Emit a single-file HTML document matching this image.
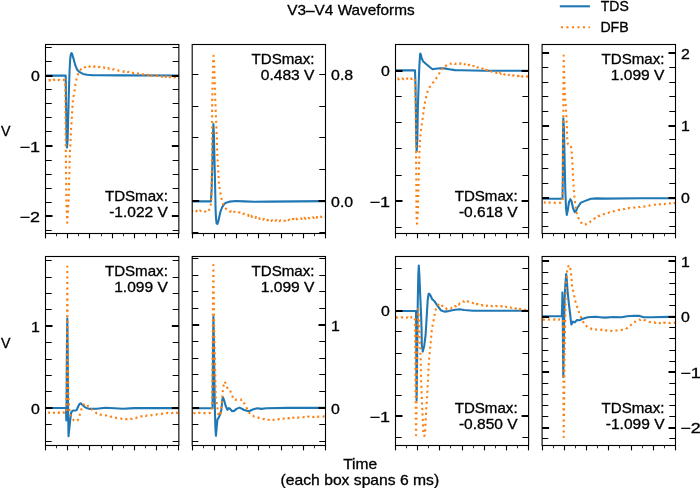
<!DOCTYPE html><html><head><meta charset="utf-8"><style>html,body{margin:0;padding:0;background:#fff;}svg{display:block}text{font-family:"Liberation Sans",sans-serif;font-size:14.10px;fill:#000;stroke:#000;stroke-width:0.3px}svg{will-change:transform}</style></head><body>
<svg width="700" height="488" viewBox="0 0 700 488">
<rect width="700" height="488" fill="#fff"/>
<clipPath id="c0"><rect x="45.5" y="44.5" width="133.35" height="189.0"/></clipPath>
<path d="M43.50,75.60 L65.70,75.60 L66.00,100.00 L66.60,140.00 L67.00,147.40 L67.60,140.00 L68.80,94.00 L69.60,70.00 L70.20,59.00 L70.70,55.00 L71.20,53.40 L71.60,53.10 L72.00,53.60 L72.50,55.30 L73.50,58.60 L75.20,64.90 L77.20,69.80 L79.70,72.20 L83.00,73.90 L87.00,74.70 L92.80,75.20 L99.30,75.30 L120.00,75.40 L180.85,75.50" fill="none" stroke="#1f77b4" stroke-width="2.08" stroke-linejoin="round" stroke-linecap="butt" clip-path="url(#c0)"/>
<path d="M43.50,80.10 L44.00,79.85 L44.50,80.16 L44.99,80.27 L45.49,80.22 L45.99,79.90 L46.49,80.33 L46.98,80.25 L47.48,80.25 L47.98,80.26 L48.48,80.33 L48.97,80.57 L49.47,79.97 L49.97,80.11 L50.47,80.47 L50.97,79.82 L51.46,80.17 L51.96,79.95 L52.46,80.10 L52.96,80.20 L53.45,79.69 L53.95,79.89 L54.45,79.80 L54.95,80.05 L55.44,79.95 L55.94,80.42 L56.44,79.97 L56.94,80.46 L57.43,80.01 L57.93,80.16 L58.43,80.11 L58.93,80.10 L59.43,79.86 L59.92,80.17 L60.42,80.18 L60.92,80.15 L61.42,80.23 L61.91,79.93 L62.41,80.04 L62.91,79.96 L63.41,79.74 L63.90,80.18 L64.40,79.97 L64.90,80.10 L65.30,90.00 L65.60,130.00 L65.90,160.00 L66.30,200.00 L67.20,222.60 L68.60,200.00 L69.80,155.60 L70.40,144.50 L70.80,133.00 L71.50,121.90 L72.20,110.80 L72.90,99.80 L74.00,94.00 L74.90,88.60 L75.60,83.00 L76.90,77.60 L78.70,72.20 L82.00,67.90 L82.49,67.71 L82.98,68.04 L83.47,67.44 L83.96,67.24 L84.45,67.28 L84.94,67.14 L85.43,67.09 L85.92,66.43 L86.41,66.75 L86.90,66.20 L87.42,66.16 L87.94,65.93 L88.46,65.97 L88.98,66.39 L89.50,66.31 L90.02,66.41 L90.54,65.93 L91.06,66.05 L91.58,65.86 L92.10,66.10 L92.59,65.74 L93.08,66.21 L93.57,66.60 L94.06,66.55 L94.55,66.21 L95.05,66.67 L95.54,66.36 L96.03,66.60 L96.52,66.77 L97.01,66.56 L97.50,66.70 L98.00,66.58 L98.50,66.98 L99.00,66.87 L99.50,66.86 L100.00,67.18 L100.50,67.07 L101.00,67.27 L101.50,67.06 L102.00,67.48 L102.50,67.40 L102.99,67.28 L103.48,67.48 L103.97,67.24 L104.46,67.97 L104.95,67.82 L105.44,67.98 L105.93,67.60 L106.42,68.07 L106.91,68.04 L107.40,68.20 L107.90,68.54 L108.40,68.05 L108.90,68.54 L109.40,68.78 L109.90,68.40 L110.40,68.76 L110.90,68.60 L111.40,68.93 L111.90,69.08 L112.40,69.10 L112.91,69.50 L113.42,69.38 L113.93,69.31 L114.44,69.70 L114.95,69.70 L115.46,70.05 L115.97,69.81 L116.48,70.34 L116.99,70.22 L117.50,70.30 L118.02,70.45 L118.54,70.71 L119.06,70.49 L119.58,70.59 L120.10,70.91 L120.62,70.88 L121.14,71.01 L121.66,71.01 L122.18,71.13 L122.70,71.30 L123.18,71.56 L123.66,71.88 L124.14,71.25 L124.62,71.94 L125.10,71.86 L125.58,72.04 L126.06,71.90 L126.54,71.78 L127.02,71.98 L127.50,72.10 L128.01,71.97 L128.52,71.89 L129.03,72.29 L129.54,72.43 L130.05,72.39 L130.56,72.56 L131.07,72.26 L131.58,72.88 L132.09,72.70 L132.60,72.80 L133.11,72.87 L133.62,73.07 L134.13,72.86 L134.64,73.59 L135.15,73.36 L135.66,73.42 L136.17,73.25 L136.68,73.13 L137.19,73.45 L137.70,73.40 L138.18,73.33 L138.66,73.61 L139.15,73.70 L139.63,73.99 L140.11,73.90 L140.59,73.92 L141.07,74.27 L141.55,74.03 L142.04,74.02 L142.52,74.11 L143.00,74.30 L143.48,74.67 L143.96,74.43 L144.44,74.36 L144.92,74.13 L145.40,74.38 L145.88,74.73 L146.36,74.84 L146.84,75.13 L147.32,74.69 L147.80,74.90 L148.32,75.07 L148.84,75.29 L149.36,74.60 L149.88,75.63 L150.40,74.96 L150.92,75.02 L151.44,75.52 L151.96,75.47 L152.48,75.70 L153.00,75.50 L153.49,75.68 L153.98,75.64 L154.47,75.59 L154.96,75.50 L155.45,75.82 L155.94,75.33 L156.43,75.74 L156.92,75.99 L157.41,75.62 L157.90,75.90 L158.41,76.13 L158.92,76.21 L159.43,76.07 L159.94,76.07 L160.45,76.27 L160.96,76.34 L161.47,76.20 L161.98,76.74 L162.49,76.67 L163.00,76.40 L163.49,76.64 L163.98,76.76 L164.47,76.77 L164.96,76.23 L165.45,77.09 L165.94,76.27 L166.43,76.65 L166.92,76.41 L167.41,76.80 L167.90,76.70 L168.38,76.85 L168.86,76.87 L169.34,76.27 L169.82,77.11 L170.30,77.05 L170.78,76.63 L171.26,77.44 L171.74,77.15 L172.22,77.08 L172.70,77.30 L173.21,77.41 L173.72,77.22 L174.23,77.44 L174.74,77.30 L175.25,77.20 L175.76,77.17 L176.27,77.60 L176.77,77.47 L177.28,77.31 L177.79,77.36 L178.30,77.32 L178.81,77.98 L179.32,77.63 L179.83,77.60 L180.34,77.90 L180.85,77.60" fill="none" stroke="#ff7f0e" stroke-width="2.08" stroke-dasharray="2.08 3.44" stroke-dashoffset="5.20" stroke-linejoin="round" clip-path="url(#c0)"/>
<path d="M45.5,230.50h6.2M178.85,230.50h-6.2" stroke="#000" stroke-width="1.11"/>
<path d="M45.5,216.00h7M178.85,216.00h-7" stroke="#000" stroke-width="2.08"/>
<path d="M45.5,202.50h6.2M178.85,202.50h-6.2" stroke="#000" stroke-width="1.11"/>
<path d="M45.5,188.50h6.2M178.85,188.50h-6.2" stroke="#000" stroke-width="1.11"/>
<path d="M45.5,174.50h6.2M178.85,174.50h-6.2" stroke="#000" stroke-width="1.11"/>
<path d="M45.5,160.50h6.2M178.85,160.50h-6.2" stroke="#000" stroke-width="1.11"/>
<path d="M45.5,146.00h7M178.85,146.00h-7" stroke="#000" stroke-width="2.08"/>
<path d="M45.5,131.50h6.2M178.85,131.50h-6.2" stroke="#000" stroke-width="1.11"/>
<path d="M45.5,117.50h6.2M178.85,117.50h-6.2" stroke="#000" stroke-width="1.11"/>
<path d="M45.5,103.50h6.2M178.85,103.50h-6.2" stroke="#000" stroke-width="1.11"/>
<path d="M45.5,89.50h6.2M178.85,89.50h-6.2" stroke="#000" stroke-width="1.11"/>
<path d="M45.5,76.00h7M178.85,76.00h-7" stroke="#000" stroke-width="2.08"/>
<path d="M45.5,61.50h6.2M178.85,61.50h-6.2" stroke="#000" stroke-width="1.11"/>
<path d="M45.5,47.50h6.2M178.85,47.50h-6.2" stroke="#000" stroke-width="1.11"/>
<path d="M45.50,233.5v4.86" stroke="#000" stroke-width="1.11"/>
<path d="M56.50,233.5v2.78" stroke="#000" stroke-width="0.83"/>
<path d="M67.50,233.5v4.86" stroke="#000" stroke-width="1.11"/>
<path d="M78.50,233.5v2.78" stroke="#000" stroke-width="0.83"/>
<path d="M89.50,233.5v4.86" stroke="#000" stroke-width="1.11"/>
<path d="M101.50,233.5v2.78" stroke="#000" stroke-width="0.83"/>
<path d="M112.50,233.5v4.86" stroke="#000" stroke-width="1.11"/>
<path d="M123.50,233.5v2.78" stroke="#000" stroke-width="0.83"/>
<path d="M134.50,233.5v4.86" stroke="#000" stroke-width="1.11"/>
<path d="M145.50,233.5v2.78" stroke="#000" stroke-width="0.83"/>
<path d="M156.50,233.5v4.86" stroke="#000" stroke-width="1.11"/>
<path d="M167.50,233.5v2.78" stroke="#000" stroke-width="0.83"/>
<path d="M178.50,233.5v4.86" stroke="#000" stroke-width="1.11"/>
<rect x="45.5" y="44.5" width="133.35" height="189.00" fill="none" stroke="#000" stroke-width="1.11"/>
<text x="31.06" y="81.20" textLength="8.84" lengthAdjust="spacingAndGlyphs" >0</text>
<text x="19.42" y="151.50" textLength="20.48" lengthAdjust="spacingAndGlyphs" >−1</text>
<text x="19.42" y="221.80" textLength="20.48" lengthAdjust="spacingAndGlyphs" >−2</text>
<text x="104.91" y="200.80" textLength="62.94" lengthAdjust="spacingAndGlyphs" >TDSmax:</text>
<text x="109.16" y="216.60" textLength="58.69" lengthAdjust="spacingAndGlyphs" >-1.022 V</text>
<clipPath id="c1"><rect x="192.2" y="44.5" width="133.3" height="189.0"/></clipPath>
<path d="M190.20,201.40 L210.90,201.40 L211.60,190.00 L212.30,165.00 L213.00,135.00 L213.40,124.00 L213.90,135.00 L214.50,160.00 L215.20,190.00 L215.60,210.00 L216.00,218.00 L216.60,223.40 L217.40,224.00 L218.30,221.50 L219.40,216.30 L220.50,211.50 L222.00,207.50 L223.80,204.60 L225.50,203.00 L229.90,201.60 L236.00,201.00 L243.90,201.40 L254.30,201.80 L270.00,201.60 L327.50,201.10" fill="none" stroke="#1f77b4" stroke-width="2.08" stroke-linejoin="round" stroke-linecap="butt" clip-path="url(#c1)"/>
<path d="M190.20,211.10 L190.71,210.84 L191.21,210.43 L191.72,211.30 L192.22,211.34 L192.73,211.00 L193.23,211.22 L193.74,211.66 L194.24,211.45 L194.75,211.33 L195.26,211.33 L195.76,210.82 L196.27,211.42 L196.77,210.56 L197.28,210.99 L197.78,210.96 L198.29,210.53 L198.79,211.06 L199.30,211.64 L199.81,210.99 L200.31,210.70 L200.82,211.07 L201.32,211.38 L201.83,211.16 L202.33,211.10 L202.84,210.64 L203.34,211.26 L203.85,211.26 L204.36,211.54 L204.86,211.59 L205.37,211.33 L205.87,210.56 L206.38,210.63 L206.88,210.74 L207.39,211.20 L207.89,210.84 L208.40,211.10 L210.40,207.50 L211.30,200.90 L211.80,180.00 L212.00,156.50 L212.20,100.00 L213.00,65.00 L213.50,55.70 L214.20,65.00 L215.30,100.00 L216.50,130.00 L217.40,156.50 L219.00,184.50 L220.70,194.30 L222.30,202.50 L224.80,207.50 L228.00,210.70 L228.50,211.30 L229.00,211.12 L229.50,211.33 L230.00,211.63 L230.50,211.66 L231.00,211.26 L231.50,212.69 L232.00,212.54 L232.50,212.73 L233.00,212.40 L233.50,212.17 L234.00,211.83 L234.50,211.95 L235.00,212.12 L235.50,212.77 L236.00,212.79 L236.50,212.99 L237.00,213.23 L237.50,212.71 L238.00,212.67 L238.50,212.45 L239.00,212.47 L239.50,212.60 L239.99,212.35 L240.47,213.03 L240.96,213.10 L241.45,213.00 L241.93,213.00 L242.42,213.55 L242.91,213.96 L243.39,213.69 L243.88,213.89 L244.37,213.75 L244.85,213.99 L245.34,214.10 L245.83,214.24 L246.31,214.27 L246.80,214.60 L247.31,214.94 L247.83,215.45 L248.34,214.93 L248.85,215.91 L249.36,215.53 L249.88,215.75 L250.39,215.38 L250.90,216.30 L251.41,215.68 L251.92,216.90 L252.43,216.48 L252.94,217.28 L253.46,217.21 L253.97,217.45 L254.48,217.98 L254.99,217.70 L255.50,217.90 L256.01,216.93 L256.51,217.53 L257.02,218.52 L257.53,218.95 L258.04,218.37 L258.54,218.27 L259.05,218.14 L259.56,218.88 L260.06,218.21 L260.57,218.49 L261.08,219.04 L261.59,219.13 L262.09,219.12 L262.60,219.30 L263.11,219.72 L263.62,219.03 L264.14,219.12 L264.65,219.44 L265.16,219.67 L265.68,219.60 L266.19,220.43 L266.70,219.65 L267.21,220.13 L267.73,219.80 L268.24,220.16 L268.75,219.98 L269.26,220.06 L269.78,220.79 L270.29,220.22 L270.80,220.40 L271.31,220.98 L271.82,220.20 L272.34,220.30 L272.85,220.84 L273.36,219.68 L273.88,219.96 L274.39,220.54 L274.90,220.71 L275.41,220.76 L275.93,220.48 L276.44,220.13 L276.95,220.90 L277.46,220.79 L277.98,220.29 L278.49,220.71 L279.00,220.70 L279.51,221.27 L280.02,220.68 L280.54,220.21 L281.05,220.43 L281.56,220.42 L282.07,220.63 L282.59,220.78 L283.10,220.14 L283.61,220.20 L284.12,220.73 L284.64,220.60 L285.15,220.78 L285.66,219.81 L286.18,219.94 L286.69,220.56 L287.20,220.20 L287.71,219.83 L288.22,220.19 L288.74,220.01 L289.25,219.72 L289.76,220.41 L290.27,219.86 L290.79,219.64 L291.30,219.70 L291.81,219.78 L292.32,219.11 L292.84,219.29 L293.35,219.10 L293.86,218.77 L294.38,219.74 L294.89,219.83 L295.40,219.30 L295.91,219.63 L296.41,218.58 L296.92,219.24 L297.42,219.28 L297.93,218.80 L298.44,219.20 L298.94,218.49 L299.45,218.44 L299.96,218.46 L300.46,218.43 L300.97,218.27 L301.48,218.87 L301.98,218.13 L302.49,218.27 L302.99,218.15 L303.50,218.30 L304.01,219.00 L304.52,217.94 L305.04,218.36 L305.55,218.78 L306.06,217.75 L306.57,217.83 L307.09,217.97 L307.60,217.61 L308.11,218.42 L308.62,217.83 L309.14,218.30 L309.65,218.10 L310.16,217.90 L310.68,218.18 L311.19,217.73 L311.70,217.80 L312.20,218.10 L312.70,217.27 L313.20,217.42 L313.70,218.02 L314.20,216.88 L314.70,217.69 L315.20,217.35 L315.70,217.26 L316.20,217.16 L316.70,217.77 L317.20,216.80 L317.70,217.53 L318.20,217.37 L318.70,217.03 L319.20,217.10 L319.70,217.31 L320.20,216.84 L320.70,216.49 L321.20,217.04 L321.70,216.90 L322.18,216.59 L322.67,216.70 L323.15,216.82 L323.63,217.01 L324.12,217.33 L324.60,216.81 L325.08,216.70 L325.57,216.90 L326.05,216.69 L326.53,216.01 L327.02,216.34 L327.50,216.50" fill="none" stroke="#ff7f0e" stroke-width="2.08" stroke-dasharray="2.08 3.44" stroke-dashoffset="4.07" stroke-linejoin="round" clip-path="url(#c1)"/>
<path d="M192.2,232.50h6.2M325.5,232.50h-6.2" stroke="#000" stroke-width="1.11"/>
<path d="M192.2,201.00h7M325.5,201.00h-7" stroke="#000" stroke-width="2.08"/>
<path d="M192.2,169.50h6.2M325.5,169.50h-6.2" stroke="#000" stroke-width="1.11"/>
<path d="M192.2,137.50h6.2M325.5,137.50h-6.2" stroke="#000" stroke-width="1.11"/>
<path d="M192.2,106.50h6.2M325.5,106.50h-6.2" stroke="#000" stroke-width="1.11"/>
<path d="M192.2,74.50h6.2M325.5,74.50h-6.2" stroke="#000" stroke-width="1.11"/>
<path d="M192.50,233.5v4.86" stroke="#000" stroke-width="1.11"/>
<path d="M203.50,233.5v2.78" stroke="#000" stroke-width="0.83"/>
<path d="M214.50,233.5v4.86" stroke="#000" stroke-width="1.11"/>
<path d="M225.50,233.5v2.78" stroke="#000" stroke-width="0.83"/>
<path d="M236.50,233.5v4.86" stroke="#000" stroke-width="1.11"/>
<path d="M247.50,233.5v2.78" stroke="#000" stroke-width="0.83"/>
<path d="M258.50,233.5v4.86" stroke="#000" stroke-width="1.11"/>
<path d="M269.50,233.5v2.78" stroke="#000" stroke-width="0.83"/>
<path d="M281.50,233.5v4.86" stroke="#000" stroke-width="1.11"/>
<path d="M292.50,233.5v2.78" stroke="#000" stroke-width="0.83"/>
<path d="M303.50,233.5v4.86" stroke="#000" stroke-width="1.11"/>
<path d="M314.50,233.5v2.78" stroke="#000" stroke-width="0.83"/>
<path d="M325.50,233.5v4.86" stroke="#000" stroke-width="1.11"/>
<rect x="192.2" y="44.5" width="133.30" height="189.00" fill="none" stroke="#000" stroke-width="1.11"/>
<text x="331.10" y="79.86" textLength="22.09" lengthAdjust="spacingAndGlyphs" >0.8</text>
<text x="331.10" y="206.50" textLength="22.09" lengthAdjust="spacingAndGlyphs" >0.0</text>
<text x="251.56" y="64.30" textLength="62.94" lengthAdjust="spacingAndGlyphs" >TDSmax:</text>
<text x="260.82" y="80.00" textLength="53.68" lengthAdjust="spacingAndGlyphs" >0.483 V</text>
<clipPath id="c2"><rect x="395.5" y="44.5" width="133.10000000000002" height="189.0"/></clipPath>
<path d="M393.50,70.40 L415.00,70.40 L415.50,85.00 L415.90,110.00 L416.20,140.00 L416.70,151.30 L417.30,140.00 L417.80,110.00 L418.30,95.00 L418.80,80.00 L419.40,65.00 L420.20,53.50 L421.00,55.00 L421.40,57.50 L423.00,61.20 L425.80,63.70 L429.40,66.80 L432.50,69.20 L435.60,68.80 L440.50,68.20 L444.20,68.40 L449.10,69.20 L455.00,70.10 L461.40,70.30 L484.30,70.80 L530.60,70.70" fill="none" stroke="#1f77b4" stroke-width="2.08" stroke-linejoin="round" stroke-linecap="butt" clip-path="url(#c2)"/>
<path d="M393.50,78.80 L394.00,78.97 L394.51,79.38 L395.01,79.06 L395.52,78.51 L396.02,78.64 L396.53,79.03 L397.03,78.79 L397.54,79.12 L398.04,78.28 L398.55,79.37 L399.05,79.31 L399.56,78.41 L400.06,78.72 L400.57,78.64 L401.07,78.70 L401.58,79.07 L402.08,78.67 L402.59,78.56 L403.09,79.00 L403.60,79.18 L404.10,78.70 L404.60,78.90 L405.11,78.43 L405.61,79.09 L406.12,79.44 L406.62,78.98 L407.13,78.80 L407.63,78.26 L408.14,78.73 L408.64,78.26 L409.15,79.04 L409.65,79.31 L410.16,79.21 L410.66,78.87 L411.17,78.96 L411.67,78.63 L412.18,78.88 L412.68,78.88 L413.19,78.82 L413.69,78.08 L414.20,78.89 L414.70,78.80 L415.20,85.00 L415.70,110.00 L416.10,153.00 L416.50,215.60 L417.00,223.60 L417.80,212.30 L419.40,153.00 L419.50,151.00 L419.80,145.20 L420.10,139.50 L420.60,134.10 L421.20,128.50 L422.00,123.00 L422.80,117.40 L423.50,111.90 L424.30,106.30 L425.30,100.50 L426.40,95.70 L428.00,90.10 L430.70,85.20 L434.10,81.50 L437.10,77.00 L439.90,72.50 L443.00,68.20 L443.53,67.91 L444.06,67.15 L444.59,67.04 L445.11,66.72 L445.64,65.47 L446.17,65.89 L446.70,65.20 L447.18,64.89 L447.66,64.54 L448.13,64.74 L448.61,64.30 L449.09,64.22 L449.57,63.90 L450.04,63.83 L450.52,63.51 L451.00,63.70 L451.51,63.49 L452.03,63.32 L452.54,63.22 L453.06,63.87 L453.57,63.55 L454.09,63.63 L454.60,63.50 L455.11,63.99 L455.62,63.72 L456.13,63.56 L456.64,63.27 L457.15,63.81 L457.66,63.75 L458.17,63.92 L458.68,63.62 L459.19,63.57 L459.70,63.70 L460.21,63.20 L460.72,64.02 L461.23,63.53 L461.74,63.91 L462.26,64.27 L462.77,64.24 L463.28,64.28 L463.79,64.52 L464.30,64.50 L464.81,64.07 L465.32,64.65 L465.83,65.07 L466.34,65.12 L466.86,64.45 L467.37,65.21 L467.88,65.15 L468.39,64.83 L468.90,65.20 L469.40,64.90 L469.90,65.34 L470.40,65.87 L470.90,65.72 L471.40,65.42 L471.90,65.81 L472.40,66.18 L472.90,66.00 L473.40,66.11 L473.90,66.16 L474.40,66.58 L474.90,66.02 L475.40,66.88 L475.90,66.53 L476.40,67.05 L476.90,67.33 L477.40,67.40 L477.91,67.46 L478.42,67.42 L478.93,67.64 L479.44,68.10 L479.96,67.62 L480.47,67.87 L480.98,68.33 L481.49,68.58 L482.00,68.50 L482.48,68.64 L482.96,68.67 L483.43,69.18 L483.91,69.04 L484.39,69.89 L484.87,69.85 L485.34,70.18 L485.82,69.55 L486.30,70.00 L486.78,69.99 L487.26,70.19 L487.74,70.06 L488.22,70.40 L488.70,70.95 L489.18,70.54 L489.66,70.88 L490.14,71.52 L490.62,71.33 L491.10,71.40 L491.61,71.65 L492.12,71.64 L492.63,71.58 L493.14,71.77 L493.66,72.07 L494.17,71.96 L494.68,72.26 L495.19,72.24 L495.70,72.50 L496.21,72.56 L496.72,73.12 L497.23,72.96 L497.74,72.52 L498.26,72.94 L498.77,73.60 L499.28,73.70 L499.79,72.96 L500.30,73.40 L500.80,73.61 L501.30,73.59 L501.80,72.99 L502.30,73.87 L502.80,74.45 L503.30,73.79 L503.80,74.01 L504.30,74.20 L504.81,74.53 L505.32,74.22 L505.83,74.30 L506.34,74.58 L506.86,74.18 L507.37,74.79 L507.88,74.37 L508.39,74.83 L508.90,74.90 L509.40,75.17 L509.90,75.46 L510.40,74.84 L510.90,75.18 L511.40,75.24 L511.90,74.72 L512.40,75.25 L512.90,75.40 L513.40,75.40 L513.91,75.60 L514.42,76.05 L514.93,75.59 L515.44,75.60 L515.96,75.65 L516.47,75.72 L516.98,75.92 L517.49,76.28 L518.00,75.90 L518.50,75.65 L519.00,76.00 L519.50,75.38 L520.00,75.63 L520.50,76.18 L521.00,75.60 L521.50,76.33 L522.00,76.30 L522.48,76.68 L522.96,76.12 L523.43,76.19 L523.91,76.42 L524.39,76.31 L524.87,76.47 L525.34,76.32 L525.82,76.79 L526.30,76.60 L526.78,76.69 L527.26,76.61 L527.73,76.03 L528.21,76.48 L528.69,76.71 L529.17,76.91 L529.64,76.56 L530.12,76.93 L530.60,76.80" fill="none" stroke="#ff7f0e" stroke-width="2.08" stroke-dasharray="2.08 3.44" stroke-dashoffset="5.27" stroke-linejoin="round" clip-path="url(#c2)"/>
<path d="M395.5,227.50h6.2M528.6,227.50h-6.2" stroke="#000" stroke-width="1.11"/>
<path d="M395.5,201.00h7M528.6,201.00h-7" stroke="#000" stroke-width="2.08"/>
<path d="M395.5,175.50h6.2M528.6,175.50h-6.2" stroke="#000" stroke-width="1.11"/>
<path d="M395.5,148.50h6.2M528.6,148.50h-6.2" stroke="#000" stroke-width="1.11"/>
<path d="M395.5,122.50h6.2M528.6,122.50h-6.2" stroke="#000" stroke-width="1.11"/>
<path d="M395.5,96.50h6.2M528.6,96.50h-6.2" stroke="#000" stroke-width="1.11"/>
<path d="M395.5,71.00h7M528.6,71.00h-7" stroke="#000" stroke-width="2.08"/>
<path d="M395.5,44.50h6.2M528.6,44.50h-6.2" stroke="#000" stroke-width="1.11"/>
<path d="M395.50,233.5v4.86" stroke="#000" stroke-width="1.11"/>
<path d="M406.50,233.5v2.78" stroke="#000" stroke-width="0.83"/>
<path d="M417.50,233.5v4.86" stroke="#000" stroke-width="1.11"/>
<path d="M428.50,233.5v2.78" stroke="#000" stroke-width="0.83"/>
<path d="M439.50,233.5v4.86" stroke="#000" stroke-width="1.11"/>
<path d="M450.50,233.5v2.78" stroke="#000" stroke-width="0.83"/>
<path d="M462.50,233.5v4.86" stroke="#000" stroke-width="1.11"/>
<path d="M473.50,233.5v2.78" stroke="#000" stroke-width="0.83"/>
<path d="M484.50,233.5v4.86" stroke="#000" stroke-width="1.11"/>
<path d="M495.50,233.5v2.78" stroke="#000" stroke-width="0.83"/>
<path d="M506.50,233.5v4.86" stroke="#000" stroke-width="1.11"/>
<path d="M517.50,233.5v2.78" stroke="#000" stroke-width="0.83"/>
<path d="M528.50,233.5v4.86" stroke="#000" stroke-width="1.11"/>
<rect x="395.5" y="44.5" width="133.10" height="189.00" fill="none" stroke="#000" stroke-width="1.11"/>
<text x="381.06" y="76.20" textLength="8.84" lengthAdjust="spacingAndGlyphs" >0</text>
<text x="369.42" y="206.60" textLength="20.48" lengthAdjust="spacingAndGlyphs" >−1</text>
<text x="454.66" y="200.80" textLength="62.94" lengthAdjust="spacingAndGlyphs" >TDSmax:</text>
<text x="458.91" y="216.60" textLength="58.69" lengthAdjust="spacingAndGlyphs" >-0.618 V</text>
<clipPath id="c3"><rect x="542.1" y="44.5" width="133.39999999999998" height="189.0"/></clipPath>
<path d="M540.10,198.70 L562.50,198.70 L562.80,180.00 L563.00,140.00 L563.30,118.30 L564.00,130.00 L564.60,160.00 L565.30,190.00 L566.00,208.00 L566.80,215.00 L567.80,210.00 L569.00,202.00 L570.40,199.20 L571.50,201.00 L573.00,208.00 L574.70,212.20 L576.00,211.00 L577.30,208.00 L580.90,202.60 L585.20,200.90 L590.90,198.70 L596.60,198.40 L605.00,198.60 L640.00,198.30 L677.50,198.20" fill="none" stroke="#1f77b4" stroke-width="2.08" stroke-linejoin="round" stroke-linecap="butt" clip-path="url(#c3)"/>
<path d="M540.10,202.60 L540.60,202.78 L541.10,202.40 L541.60,202.70 L542.10,202.41 L542.60,202.77 L543.10,202.35 L543.60,202.49 L544.10,202.50 L544.60,202.26 L545.10,202.74 L545.60,202.35 L546.10,202.39 L546.60,202.51 L547.10,202.72 L547.60,202.47 L548.10,202.92 L548.60,202.60 L549.10,202.55 L549.60,202.67 L550.10,202.58 L550.60,202.43 L551.10,202.51 L551.60,202.63 L552.10,202.85 L552.60,202.64 L553.10,202.68 L553.60,202.24 L554.10,202.56 L554.60,202.60 L555.10,202.88 L555.60,202.85 L556.10,202.62 L556.60,202.68 L557.10,202.59 L557.60,202.48 L558.10,202.60 L558.60,202.60 L559.08,202.58 L559.56,202.73 L560.04,202.83 L560.52,202.73 L561.00,202.80 L561.50,202.58 L562.00,201.82 L562.50,201.60 L562.90,180.00 L563.20,130.00 L563.40,90.00 L563.70,55.50 L564.00,70.00 L564.50,88.00 L565.20,98.00 L565.90,108.00 L566.30,115.50 L566.60,122.90 L566.90,128.50 L567.10,134.00 L567.30,142.50 L568.20,144.30 L568.73,144.43 L569.25,144.58 L569.77,144.38 L570.30,144.80 L571.30,148.00 L571.90,155.00 L572.30,161.00 L572.60,167.00 L573.10,178.00 L573.80,189.40 L574.60,199.40 L576.30,211.60 L578.20,217.60 L581.20,222.70 L581.69,223.13 L582.17,223.47 L582.66,223.96 L583.14,224.01 L583.63,224.44 L584.11,224.78 L584.60,225.00 L585.09,224.48 L585.58,224.53 L586.07,223.99 L586.56,224.01 L587.05,223.82 L587.54,223.48 L588.03,222.85 L588.52,223.15 L589.01,222.71 L589.50,222.40 L589.98,222.20 L590.46,221.58 L590.93,221.27 L591.41,221.31 L591.89,220.59 L592.37,220.20 L592.84,219.85 L593.32,219.72 L593.80,219.20 L594.28,218.63 L594.76,218.51 L595.24,218.10 L595.72,218.32 L596.20,217.77 L596.68,217.30 L597.16,217.00 L597.64,216.60 L598.12,216.25 L598.60,216.00 L599.11,215.79 L599.62,215.91 L600.13,215.39 L600.64,215.20 L601.16,215.11 L601.67,215.10 L602.18,214.76 L602.69,214.32 L603.20,214.30 L603.68,214.17 L604.16,214.03 L604.65,213.68 L605.13,213.64 L605.61,213.67 L606.09,213.41 L606.57,213.62 L607.05,213.27 L607.54,213.00 L608.02,212.93 L608.50,212.80 L609.02,212.49 L609.54,212.36 L610.07,212.43 L610.59,212.12 L611.11,211.66 L611.63,211.59 L612.16,211.73 L612.68,211.29 L613.20,211.30 L613.72,211.11 L614.24,211.20 L614.76,210.85 L615.28,210.70 L615.80,210.54 L616.32,210.63 L616.84,210.21 L617.36,209.99 L617.88,210.06 L618.40,209.90 L618.88,210.08 L619.36,209.80 L619.85,209.91 L620.33,209.78 L620.81,209.32 L621.29,209.43 L621.77,209.32 L622.25,209.25 L622.74,209.37 L623.22,209.32 L623.70,209.00 L624.18,209.05 L624.66,209.06 L625.15,208.70 L625.63,208.85 L626.11,208.48 L626.59,208.52 L627.07,208.30 L627.55,208.63 L628.04,208.29 L628.52,208.41 L629.00,208.20 L629.52,207.93 L630.04,208.11 L630.56,208.13 L631.08,207.95 L631.60,207.90 L632.12,207.82 L632.64,207.72 L633.16,207.60 L633.68,207.45 L634.20,207.50 L634.72,207.63 L635.24,207.41 L635.77,207.36 L636.29,207.35 L636.81,207.04 L637.33,206.97 L637.86,206.91 L638.38,207.36 L638.90,207.00 L639.38,206.91 L639.86,207.00 L640.35,206.53 L640.83,206.70 L641.31,206.71 L641.79,206.54 L642.27,206.75 L642.75,206.45 L643.24,206.43 L643.72,206.56 L644.20,206.30 L644.72,206.49 L645.24,206.19 L645.77,205.98 L646.29,205.92 L646.81,206.07 L647.33,205.61 L647.86,205.53 L648.38,205.45 L648.90,205.50 L649.41,205.61 L649.92,205.45 L650.43,205.17 L650.94,205.12 L651.46,205.17 L651.97,205.02 L652.48,204.87 L652.99,204.84 L653.50,204.90 L653.98,204.82 L654.46,204.70 L654.95,204.74 L655.43,204.63 L655.91,204.52 L656.39,204.65 L656.87,204.60 L657.35,204.15 L657.84,204.46 L658.32,204.28 L658.80,204.30 L659.28,204.11 L659.76,204.37 L660.25,204.26 L660.73,204.28 L661.21,204.08 L661.69,204.43 L662.17,204.19 L662.65,203.99 L663.14,204.36 L663.62,203.89 L664.10,204.00 L664.58,204.20 L665.06,203.86 L665.55,203.77 L666.03,203.70 L666.51,203.61 L666.99,203.58 L667.47,203.74 L667.95,203.62 L668.44,203.33 L668.92,203.58 L669.40,203.50 L669.91,203.23 L670.41,203.52 L670.92,203.33 L671.42,203.34 L671.93,203.53 L672.44,202.98 L672.94,203.64 L673.45,203.75 L673.96,203.39 L674.46,203.28 L674.97,203.04 L675.48,203.30 L675.98,203.06 L676.49,203.02 L676.99,202.90 L677.50,203.00" fill="none" stroke="#ff7f0e" stroke-width="2.08" stroke-dasharray="2.08 3.44" stroke-dashoffset="1.15" stroke-linejoin="round" clip-path="url(#c3)"/>
<path d="M542.1,226.50h6.2M675.5,226.50h-6.2" stroke="#000" stroke-width="1.11"/>
<path d="M542.1,212.50h6.2M675.5,212.50h-6.2" stroke="#000" stroke-width="1.11"/>
<path d="M542.1,198.00h7M675.5,198.00h-7" stroke="#000" stroke-width="2.08"/>
<path d="M542.1,183.50h6.2M675.5,183.50h-6.2" stroke="#000" stroke-width="1.11"/>
<path d="M542.1,168.50h6.2M675.5,168.50h-6.2" stroke="#000" stroke-width="1.11"/>
<path d="M542.1,154.50h6.2M675.5,154.50h-6.2" stroke="#000" stroke-width="1.11"/>
<path d="M542.1,139.50h6.2M675.5,139.50h-6.2" stroke="#000" stroke-width="1.11"/>
<path d="M542.1,126.00h7M675.5,126.00h-7" stroke="#000" stroke-width="2.08"/>
<path d="M542.1,111.50h6.2M675.5,111.50h-6.2" stroke="#000" stroke-width="1.11"/>
<path d="M542.1,96.50h6.2M675.5,96.50h-6.2" stroke="#000" stroke-width="1.11"/>
<path d="M542.1,82.50h6.2M675.5,82.50h-6.2" stroke="#000" stroke-width="1.11"/>
<path d="M542.1,67.50h6.2M675.5,67.50h-6.2" stroke="#000" stroke-width="1.11"/>
<path d="M542.1,53.00h7M675.5,53.00h-7" stroke="#000" stroke-width="2.08"/>
<path d="M542.50,233.5v4.86" stroke="#000" stroke-width="1.11"/>
<path d="M553.50,233.5v2.78" stroke="#000" stroke-width="0.83"/>
<path d="M564.50,233.5v4.86" stroke="#000" stroke-width="1.11"/>
<path d="M575.50,233.5v2.78" stroke="#000" stroke-width="0.83"/>
<path d="M586.50,233.5v4.86" stroke="#000" stroke-width="1.11"/>
<path d="M597.50,233.5v2.78" stroke="#000" stroke-width="0.83"/>
<path d="M608.50,233.5v4.86" stroke="#000" stroke-width="1.11"/>
<path d="M619.50,233.5v2.78" stroke="#000" stroke-width="0.83"/>
<path d="M631.50,233.5v4.86" stroke="#000" stroke-width="1.11"/>
<path d="M642.50,233.5v2.78" stroke="#000" stroke-width="0.83"/>
<path d="M653.50,233.5v4.86" stroke="#000" stroke-width="1.11"/>
<path d="M664.50,233.5v2.78" stroke="#000" stroke-width="0.83"/>
<path d="M675.50,233.5v4.86" stroke="#000" stroke-width="1.11"/>
<rect x="542.1" y="44.5" width="133.40" height="189.00" fill="none" stroke="#000" stroke-width="1.11"/>
<text x="681.10" y="58.60" textLength="8.84" lengthAdjust="spacingAndGlyphs" >2</text>
<text x="681.10" y="131.00" textLength="8.84" lengthAdjust="spacingAndGlyphs" >1</text>
<text x="681.10" y="203.40" textLength="8.84" lengthAdjust="spacingAndGlyphs" >0</text>
<text x="601.56" y="64.30" textLength="62.94" lengthAdjust="spacingAndGlyphs" >TDSmax:</text>
<text x="610.82" y="80.00" textLength="53.68" lengthAdjust="spacingAndGlyphs" >1.099 V</text>
<clipPath id="c4"><rect x="45.5" y="256.5" width="133.35" height="189.0"/></clipPath>
<path d="M43.50,408.00 L66.00,408.00 L66.30,420.50 L66.60,400.00 L66.90,350.00 L67.30,318.50 L67.70,350.00 L68.00,400.00 L68.50,436.30 L69.20,430.00 L70.10,420.80 L71.20,412.50 L72.50,410.80 L76.50,410.30 L78.20,406.50 L79.50,404.00 L80.70,403.30 L82.00,404.50 L84.50,406.80 L87.30,408.30 L90.00,408.90 L96.70,408.70 L103.30,408.00 L105.70,407.80 L122.90,408.70 L134.30,408.10 L180.85,408.10" fill="none" stroke="#1f77b4" stroke-width="2.08" stroke-linejoin="round" stroke-linecap="butt" clip-path="url(#c4)"/>
<path d="M43.50,412.70 L44.00,412.80 L44.51,412.80 L45.01,412.59 L45.52,412.70 L46.02,412.70 L46.53,412.71 L47.03,413.07 L47.54,412.65 L48.04,412.65 L48.55,412.62 L49.05,412.88 L49.56,412.63 L50.06,412.68 L50.57,412.85 L51.07,412.83 L51.58,412.53 L52.08,413.01 L52.59,412.75 L53.09,412.86 L53.60,412.76 L54.10,412.99 L54.60,412.64 L55.11,412.59 L55.61,412.77 L56.12,412.94 L56.62,412.70 L57.13,412.86 L57.63,412.97 L58.14,412.46 L58.64,412.94 L59.15,412.90 L59.65,412.62 L60.16,412.69 L60.66,412.62 L61.17,412.85 L61.67,412.60 L62.18,412.81 L62.68,412.94 L63.19,412.40 L63.69,412.78 L64.20,412.69 L64.70,412.70 L65.23,412.72 L65.77,412.98 L66.30,413.00 L66.60,405.00 L66.90,350.00 L67.30,266.50 L67.70,350.00 L68.30,395.00 L68.80,402.40 L69.20,407.90 L69.90,413.90 L71.80,418.00 L74.00,420.50 L74.47,420.68 L74.95,420.64 L75.43,421.00 L75.90,421.30 L76.43,421.03 L76.97,420.64 L77.50,420.50 L78.90,418.00 L80.20,413.00 L81.80,408.00 L83.50,405.00 L83.95,404.47 L84.40,404.83 L84.85,404.35 L85.30,403.80 L85.85,404.45 L86.40,404.67 L86.95,404.72 L87.50,405.50 L87.98,405.91 L88.46,406.51 L88.94,406.80 L89.42,407.24 L89.90,407.80 L90.41,408.31 L90.92,409.06 L91.43,409.19 L91.94,409.61 L92.46,409.90 L92.97,410.74 L93.48,410.98 L93.99,411.36 L94.50,411.80 L95.03,412.04 L95.55,412.27 L96.08,412.69 L96.60,413.28 L97.12,413.21 L97.65,413.57 L98.17,413.62 L98.70,414.00 L99.22,414.23 L99.74,414.07 L100.27,414.72 L100.79,414.52 L101.31,414.84 L101.83,414.93 L102.36,415.29 L102.88,415.29 L103.40,415.30 L103.91,415.50 L104.42,415.17 L104.93,415.31 L105.44,415.36 L105.96,415.43 L106.47,415.50 L106.98,415.86 L107.49,415.75 L108.00,415.80 L108.51,415.93 L109.02,415.89 L109.53,416.01 L110.04,416.05 L110.55,416.59 L111.06,416.54 L111.57,416.77 L112.08,416.80 L112.59,416.73 L113.10,417.00 L113.60,417.13 L114.10,416.91 L114.60,417.54 L115.10,417.57 L115.60,417.74 L116.10,417.86 L116.60,418.09 L117.10,418.08 L117.60,418.27 L118.10,418.40 L118.58,418.36 L119.06,418.52 L119.54,418.70 L120.02,418.88 L120.50,418.74 L120.98,418.64 L121.46,418.64 L121.94,418.99 L122.42,418.99 L122.90,419.20 L123.41,419.30 L123.92,419.48 L124.43,419.06 L124.94,419.43 L125.45,419.41 L125.96,419.03 L126.47,419.12 L126.98,419.33 L127.49,419.06 L128.00,419.20 L128.49,418.95 L128.98,419.18 L129.47,418.86 L129.96,418.77 L130.45,418.92 L130.94,418.74 L131.43,418.69 L131.92,418.82 L132.41,418.72 L132.90,418.40 L133.38,418.01 L133.86,418.36 L134.34,418.09 L134.82,418.04 L135.30,418.01 L135.78,418.07 L136.26,417.79 L136.74,417.52 L137.22,417.51 L137.70,417.30 L138.22,416.94 L138.74,417.17 L139.26,417.00 L139.78,416.63 L140.30,416.47 L140.82,416.37 L141.34,416.33 L141.86,416.45 L142.38,416.20 L142.90,416.10 L143.41,415.91 L143.92,415.90 L144.43,416.09 L144.94,415.74 L145.45,415.57 L145.96,416.00 L146.47,415.41 L146.98,415.55 L147.49,415.54 L148.00,415.30 L148.51,415.30 L149.02,415.21 L149.53,415.44 L150.04,415.21 L150.55,415.27 L151.06,415.12 L151.57,415.38 L152.08,414.92 L152.59,414.83 L153.10,415.00 L153.62,414.78 L154.14,414.83 L154.66,414.73 L155.18,414.71 L155.70,414.50 L156.22,414.61 L156.74,414.21 L157.26,414.16 L157.78,414.24 L158.30,414.20 L158.81,414.01 L159.32,413.91 L159.83,413.87 L160.34,413.77 L160.86,413.86 L161.37,413.86 L161.88,413.87 L162.39,413.61 L162.90,413.50 L163.41,413.35 L163.92,413.24 L164.43,413.20 L164.94,413.08 L165.45,413.41 L165.96,413.56 L166.47,413.21 L166.98,413.23 L167.49,412.77 L168.00,413.10 L168.49,413.05 L168.98,412.92 L169.47,413.00 L169.96,412.81 L170.45,412.78 L170.94,412.72 L171.43,412.72 L171.92,413.13 L172.41,412.86 L172.90,412.70 L173.40,412.44 L173.89,412.62 L174.39,412.57 L174.89,412.95 L175.38,412.28 L175.88,412.66 L176.38,412.67 L176.88,412.87 L177.37,412.77 L177.87,412.43 L178.37,412.16 L178.86,412.24 L179.36,412.27 L179.86,412.32 L180.35,412.22 L180.85,412.30" fill="none" stroke="#ff7f0e" stroke-width="2.08" stroke-dasharray="2.08 3.44" stroke-dashoffset="0.61" stroke-linejoin="round" clip-path="url(#c4)"/>
<path d="M45.5,441.50h6.2M178.85,441.50h-6.2" stroke="#000" stroke-width="1.11"/>
<path d="M45.5,424.50h6.2M178.85,424.50h-6.2" stroke="#000" stroke-width="1.11"/>
<path d="M45.5,408.00h7M178.85,408.00h-7" stroke="#000" stroke-width="2.08"/>
<path d="M45.5,391.50h6.2M178.85,391.50h-6.2" stroke="#000" stroke-width="1.11"/>
<path d="M45.5,375.50h6.2M178.85,375.50h-6.2" stroke="#000" stroke-width="1.11"/>
<path d="M45.5,359.50h6.2M178.85,359.50h-6.2" stroke="#000" stroke-width="1.11"/>
<path d="M45.5,342.50h6.2M178.85,342.50h-6.2" stroke="#000" stroke-width="1.11"/>
<path d="M45.5,326.00h7M178.85,326.00h-7" stroke="#000" stroke-width="2.08"/>
<path d="M45.5,309.50h6.2M178.85,309.50h-6.2" stroke="#000" stroke-width="1.11"/>
<path d="M45.5,293.50h6.2M178.85,293.50h-6.2" stroke="#000" stroke-width="1.11"/>
<path d="M45.5,277.50h6.2M178.85,277.50h-6.2" stroke="#000" stroke-width="1.11"/>
<path d="M45.5,260.50h6.2M178.85,260.50h-6.2" stroke="#000" stroke-width="1.11"/>
<path d="M45.50,445.5v4.86" stroke="#000" stroke-width="1.11"/>
<path d="M56.50,445.5v2.78" stroke="#000" stroke-width="0.83"/>
<path d="M67.50,445.5v4.86" stroke="#000" stroke-width="1.11"/>
<path d="M78.50,445.5v2.78" stroke="#000" stroke-width="0.83"/>
<path d="M89.50,445.5v4.86" stroke="#000" stroke-width="1.11"/>
<path d="M101.50,445.5v2.78" stroke="#000" stroke-width="0.83"/>
<path d="M112.50,445.5v4.86" stroke="#000" stroke-width="1.11"/>
<path d="M123.50,445.5v2.78" stroke="#000" stroke-width="0.83"/>
<path d="M134.50,445.5v4.86" stroke="#000" stroke-width="1.11"/>
<path d="M145.50,445.5v2.78" stroke="#000" stroke-width="0.83"/>
<path d="M156.50,445.5v4.86" stroke="#000" stroke-width="1.11"/>
<path d="M167.50,445.5v2.78" stroke="#000" stroke-width="0.83"/>
<path d="M178.50,445.5v4.86" stroke="#000" stroke-width="1.11"/>
<rect x="45.5" y="256.5" width="133.35" height="189.00" fill="none" stroke="#000" stroke-width="1.11"/>
<text x="31.06" y="331.70" textLength="8.84" lengthAdjust="spacingAndGlyphs" >1</text>
<text x="31.06" y="413.70" textLength="8.84" lengthAdjust="spacingAndGlyphs" >0</text>
<text x="104.91" y="276.30" textLength="62.94" lengthAdjust="spacingAndGlyphs" >TDSmax:</text>
<text x="114.17" y="292.00" textLength="53.68" lengthAdjust="spacingAndGlyphs" >1.099 V</text>
<clipPath id="c5"><rect x="192.2" y="256.5" width="133.3" height="189.0"/></clipPath>
<path d="M190.20,408.20 L212.50,408.20 L212.70,390.00 L213.00,350.00 L213.40,316.80 L213.90,340.00 L214.40,380.00 L214.90,410.00 L215.40,428.00 L215.90,435.80 L216.50,430.00 L217.00,424.00 L217.50,419.40 L218.80,417.60 L220.20,413.80 L221.30,410.30 L221.90,404.20 L222.40,399.00 L223.00,397.30 L224.20,400.50 L225.70,406.00 L227.40,409.80 L228.90,408.00 L230.10,408.90 L232.10,411.20 L234.10,410.90 L236.50,408.90 L239.60,407.60 L244.20,410.00 L248.80,411.20 L253.40,409.20 L257.30,408.30 L261.30,408.90 L266.50,408.30 L287.60,407.90 L327.50,407.90" fill="none" stroke="#1f77b4" stroke-width="2.08" stroke-linejoin="round" stroke-linecap="butt" clip-path="url(#c5)"/>
<path d="M190.20,413.10 L190.70,413.09 L191.19,413.30 L191.69,413.42 L192.19,413.09 L192.68,413.06 L193.18,413.27 L193.67,413.11 L194.17,413.23 L194.67,413.36 L195.16,413.19 L195.66,413.27 L196.16,412.73 L196.65,413.27 L197.15,413.07 L197.65,412.95 L198.14,413.08 L198.64,412.91 L199.14,412.91 L199.63,412.77 L200.13,413.00 L200.62,412.88 L201.12,412.97 L201.62,413.23 L202.11,413.11 L202.61,412.89 L203.11,413.17 L203.60,413.26 L204.10,413.10 L204.58,413.14 L205.06,413.17 L205.53,413.18 L206.01,413.07 L206.49,413.43 L206.97,413.37 L207.44,413.32 L207.92,413.36 L208.40,413.40 L208.93,413.15 L209.45,413.19 L209.97,412.67 L210.50,412.50 L210.93,411.82 L211.37,411.72 L211.80,411.30 L212.10,405.00 L212.40,380.00 L213.00,300.00 L213.40,265.00 L213.90,310.00 L214.60,350.00 L215.30,376.00 L215.80,398.60 L216.50,402.00 L217.10,404.20 L217.70,409.70 L218.50,414.90 L219.50,415.80 L220.70,413.40 L221.30,407.90 L221.80,402.50 L222.20,396.80 L222.80,391.20 L223.50,385.80 L224.90,381.50 L226.70,387.00 L228.50,389.40 L228.97,389.64 L229.43,389.70 L229.90,389.70 L231.60,394.80 L234.10,399.60 L234.59,399.53 L235.07,399.33 L235.56,399.93 L236.05,399.43 L236.54,399.61 L237.03,399.57 L237.51,399.49 L238.00,399.60 L238.53,399.53 L239.05,399.44 L239.57,399.48 L240.10,399.56 L240.62,399.63 L241.15,400.05 L241.67,399.51 L242.20,399.70 L244.90,404.70 L247.50,409.60 L250.10,414.40 L250.61,414.83 L251.12,414.93 L251.63,415.12 L252.14,415.22 L252.66,415.71 L253.17,415.81 L253.68,416.29 L254.19,416.57 L254.70,416.80 L255.21,416.70 L255.72,417.19 L256.23,417.09 L256.74,417.23 L257.26,417.39 L257.77,417.39 L258.28,417.73 L258.79,417.94 L259.30,417.80 L259.81,417.98 L260.32,418.26 L260.83,418.57 L261.34,418.53 L261.86,418.55 L262.37,418.93 L262.88,418.92 L263.39,419.02 L263.90,419.20 L264.38,419.02 L264.86,419.32 L265.35,419.20 L265.83,419.43 L266.31,419.09 L266.79,419.28 L267.27,419.75 L267.75,419.84 L268.24,419.67 L268.72,419.70 L269.20,419.70 L269.68,419.33 L270.16,419.79 L270.64,419.61 L271.12,419.38 L271.60,419.57 L272.08,419.57 L272.56,419.86 L273.04,419.79 L273.52,420.16 L274.00,419.80 L274.50,419.97 L275.00,419.68 L275.50,419.70 L276.00,419.35 L276.50,419.63 L277.00,419.38 L277.50,419.40 L278.00,419.37 L278.50,419.27 L279.00,419.20 L279.48,419.07 L279.96,419.19 L280.45,419.13 L280.93,418.54 L281.41,418.78 L281.89,418.79 L282.37,418.66 L282.85,418.72 L283.34,418.77 L283.82,418.59 L284.30,418.50 L284.78,418.43 L285.26,418.59 L285.74,418.44 L286.22,418.39 L286.70,418.64 L287.18,418.45 L287.66,418.07 L288.14,418.41 L288.62,418.03 L289.10,418.10 L289.60,418.11 L290.10,417.73 L290.60,418.15 L291.10,417.66 L291.60,417.98 L292.10,418.21 L292.60,417.92 L293.10,417.79 L293.60,417.57 L294.10,417.70 L294.58,417.63 L295.06,417.80 L295.55,417.26 L296.03,417.44 L296.51,417.80 L296.99,417.50 L297.47,417.74 L297.95,417.64 L298.44,417.37 L298.92,417.47 L299.40,417.50 L299.92,417.67 L300.44,417.35 L300.96,417.35 L301.48,417.41 L302.00,417.19 L302.52,417.20 L303.04,417.28 L303.56,417.13 L304.08,417.12 L304.60,417.10 L305.08,417.16 L305.56,417.33 L306.05,417.00 L306.53,416.89 L307.01,417.44 L307.49,417.09 L307.97,416.60 L308.45,416.80 L308.94,416.59 L309.42,416.95 L309.90,416.80 L310.41,416.61 L310.92,416.72 L311.43,417.08 L311.94,416.70 L312.46,416.81 L312.97,416.87 L313.48,416.97 L313.99,416.98 L314.50,416.80 L314.98,417.03 L315.46,416.64 L315.95,416.80 L316.43,416.41 L316.91,416.67 L317.39,416.61 L317.87,416.90 L318.35,416.63 L318.84,416.49 L319.32,416.47 L319.80,416.50 L320.31,416.34 L320.83,416.40 L321.34,416.36 L321.85,416.47 L322.37,416.36 L322.88,416.46 L323.39,416.62 L323.91,416.25 L324.42,416.31 L324.93,416.21 L325.45,416.75 L325.96,416.69 L326.47,416.49 L326.99,416.41 L327.50,416.40" fill="none" stroke="#ff7f0e" stroke-width="2.08" stroke-dasharray="2.08 3.44" stroke-dashoffset="2.06" stroke-linejoin="round" clip-path="url(#c5)"/>
<path d="M192.2,441.50h6.2M325.5,441.50h-6.2" stroke="#000" stroke-width="1.11"/>
<path d="M192.2,424.50h6.2M325.5,424.50h-6.2" stroke="#000" stroke-width="1.11"/>
<path d="M192.2,408.00h7M325.5,408.00h-7" stroke="#000" stroke-width="2.08"/>
<path d="M192.2,391.50h6.2M325.5,391.50h-6.2" stroke="#000" stroke-width="1.11"/>
<path d="M192.2,374.50h6.2M325.5,374.50h-6.2" stroke="#000" stroke-width="1.11"/>
<path d="M192.2,358.50h6.2M325.5,358.50h-6.2" stroke="#000" stroke-width="1.11"/>
<path d="M192.2,341.50h6.2M325.5,341.50h-6.2" stroke="#000" stroke-width="1.11"/>
<path d="M192.2,325.00h7M325.5,325.00h-7" stroke="#000" stroke-width="2.08"/>
<path d="M192.2,308.50h6.2M325.5,308.50h-6.2" stroke="#000" stroke-width="1.11"/>
<path d="M192.2,291.50h6.2M325.5,291.50h-6.2" stroke="#000" stroke-width="1.11"/>
<path d="M192.2,275.50h6.2M325.5,275.50h-6.2" stroke="#000" stroke-width="1.11"/>
<path d="M192.2,258.50h6.2M325.5,258.50h-6.2" stroke="#000" stroke-width="1.11"/>
<path d="M192.50,445.5v4.86" stroke="#000" stroke-width="1.11"/>
<path d="M203.50,445.5v2.78" stroke="#000" stroke-width="0.83"/>
<path d="M214.50,445.5v4.86" stroke="#000" stroke-width="1.11"/>
<path d="M225.50,445.5v2.78" stroke="#000" stroke-width="0.83"/>
<path d="M236.50,445.5v4.86" stroke="#000" stroke-width="1.11"/>
<path d="M247.50,445.5v2.78" stroke="#000" stroke-width="0.83"/>
<path d="M258.50,445.5v4.86" stroke="#000" stroke-width="1.11"/>
<path d="M269.50,445.5v2.78" stroke="#000" stroke-width="0.83"/>
<path d="M281.50,445.5v4.86" stroke="#000" stroke-width="1.11"/>
<path d="M292.50,445.5v2.78" stroke="#000" stroke-width="0.83"/>
<path d="M303.50,445.5v4.86" stroke="#000" stroke-width="1.11"/>
<path d="M314.50,445.5v2.78" stroke="#000" stroke-width="0.83"/>
<path d="M325.50,445.5v4.86" stroke="#000" stroke-width="1.11"/>
<rect x="192.2" y="256.5" width="133.30" height="189.00" fill="none" stroke="#000" stroke-width="1.11"/>
<text x="331.10" y="330.50" textLength="8.84" lengthAdjust="spacingAndGlyphs" >1</text>
<text x="331.10" y="413.80" textLength="8.84" lengthAdjust="spacingAndGlyphs" >0</text>
<text x="251.56" y="276.30" textLength="62.94" lengthAdjust="spacingAndGlyphs" >TDSmax:</text>
<text x="260.82" y="292.00" textLength="53.68" lengthAdjust="spacingAndGlyphs" >1.099 V</text>
<clipPath id="c6"><rect x="395.5" y="256.5" width="133.10000000000002" height="189.0"/></clipPath>
<path d="M393.50,311.00 L416.00,311.00 L416.20,330.00 L416.40,380.00 L416.60,400.30 L416.90,380.00 L417.30,340.00 L417.80,300.00 L418.30,275.00 L418.80,265.50 L419.40,275.00 L420.20,295.00 L421.10,315.00 L421.60,330.00 L421.80,345.00 L422.80,351.50 L424.20,346.00 L425.60,335.00 L426.80,315.00 L427.70,300.00 L428.60,293.80 L429.40,293.80 L430.60,295.80 L432.20,299.20 L434.50,301.30 L437.10,305.20 L440.70,310.20 L444.30,311.60 L448.60,311.10 L453.60,310.00 L459.30,309.30 L464.30,310.00 L472.90,310.70 L530.60,310.80" fill="none" stroke="#1f77b4" stroke-width="2.08" stroke-linejoin="round" stroke-linecap="butt" clip-path="url(#c6)"/>
<path d="M393.50,317.50 L394.00,317.70 L394.49,317.57 L394.99,317.61 L395.48,317.46 L395.98,317.72 L396.47,317.15 L396.97,317.76 L397.46,317.43 L397.96,317.46 L398.45,317.26 L398.95,317.12 L399.44,317.39 L399.94,317.66 L400.43,317.57 L400.93,317.70 L401.43,317.45 L401.92,317.55 L402.42,317.47 L402.91,317.25 L403.41,317.48 L403.90,317.39 L404.40,317.68 L404.89,317.45 L405.39,317.49 L405.88,317.62 L406.38,317.71 L406.87,317.47 L407.37,317.47 L407.87,317.54 L408.36,317.73 L408.86,317.28 L409.35,317.25 L409.85,318.16 L410.34,317.46 L410.84,317.52 L411.33,317.02 L411.83,317.39 L412.32,317.46 L412.82,317.36 L413.31,317.40 L413.81,317.45 L414.30,317.57 L414.80,317.50 L415.10,330.00 L415.50,380.00 L415.80,420.00 L416.00,435.30 L416.40,420.00 L417.00,370.00 L417.60,330.00 L418.30,309.00 L418.80,318.00 L419.30,330.00 L420.00,345.00 L420.70,360.00 L421.10,380.00 L422.30,410.00 L423.40,433.00 L424.20,436.00 L424.90,435.00 L426.20,410.00 L427.20,395.00 L428.00,380.00 L429.00,360.00 L430.50,345.00 L431.80,330.00 L432.90,323.60 L434.00,318.60 L435.00,312.90 L436.40,307.10 L439.30,303.60 L439.78,304.20 L440.26,304.09 L440.73,304.47 L441.21,305.27 L441.69,305.58 L442.17,305.73 L442.64,306.00 L443.12,306.52 L443.60,307.10 L444.08,307.34 L444.56,307.72 L445.03,308.06 L445.51,308.24 L445.99,308.08 L446.47,308.96 L446.94,308.96 L447.42,309.02 L447.90,309.30 L448.42,309.08 L448.95,309.15 L449.48,308.67 L450.00,308.52 L450.52,308.44 L451.05,308.57 L451.58,307.74 L452.10,307.90 L452.58,307.87 L453.06,306.93 L453.53,306.95 L454.01,306.95 L454.49,306.89 L454.97,306.13 L455.44,306.40 L455.92,306.21 L456.40,305.70 L456.88,305.28 L457.36,305.00 L457.83,304.71 L458.31,304.01 L458.79,304.69 L459.27,303.94 L459.74,303.21 L460.22,303.34 L460.70,302.90 L461.18,302.79 L461.66,302.43 L462.13,302.29 L462.61,302.27 L463.09,301.73 L463.57,301.41 L464.04,301.82 L464.52,301.30 L465.00,301.00 L465.52,300.95 L466.04,301.46 L466.57,300.62 L467.09,300.92 L467.61,301.37 L468.13,301.31 L468.66,301.38 L469.18,301.23 L469.70,301.40 L470.21,301.46 L470.72,301.69 L471.23,301.94 L471.74,302.39 L472.26,302.68 L472.77,302.79 L473.28,303.19 L473.79,302.69 L474.30,303.30 L474.80,303.40 L475.30,303.33 L475.80,304.12 L476.30,303.80 L476.80,304.13 L477.30,304.18 L477.80,304.10 L478.30,304.21 L478.80,304.67 L479.30,304.70 L479.82,304.94 L480.34,304.74 L480.87,305.33 L481.39,305.02 L481.91,305.28 L482.43,305.24 L482.96,305.46 L483.48,304.97 L484.00,305.40 L484.51,305.80 L485.02,305.72 L485.53,305.78 L486.04,305.95 L486.56,305.88 L487.07,305.46 L487.58,305.73 L488.09,305.66 L488.60,306.00 L489.10,305.88 L489.60,306.14 L490.10,306.36 L490.60,305.69 L491.10,305.77 L491.60,306.05 L492.10,306.17 L492.60,306.12 L493.10,305.94 L493.60,306.10 L494.10,306.20 L494.60,306.22 L495.10,306.00 L495.60,306.49 L496.10,305.89 L496.60,306.26 L497.10,306.28 L497.60,306.41 L498.10,306.58 L498.60,306.40 L499.08,306.27 L499.56,306.36 L500.03,306.52 L500.51,306.76 L500.99,306.24 L501.47,306.54 L501.94,306.43 L502.42,306.19 L502.90,306.40 L503.40,306.58 L503.90,306.31 L504.40,306.60 L504.90,306.71 L505.40,307.24 L505.90,306.61 L506.40,307.05 L506.90,307.02 L507.40,307.00 L507.90,307.10 L508.40,307.10 L508.90,307.59 L509.40,307.20 L509.90,307.60 L510.40,307.45 L510.90,307.74 L511.40,307.85 L511.90,307.39 L512.40,307.60 L512.90,307.90 L513.40,307.95 L513.90,308.06 L514.40,307.79 L514.90,308.28 L515.40,308.47 L515.90,308.30 L516.40,308.42 L516.90,308.18 L517.40,308.78 L517.90,308.60 L518.40,309.12 L518.90,309.43 L519.40,308.94 L519.90,309.43 L520.40,308.98 L520.90,309.30 L521.40,309.33 L521.90,309.05 L522.40,309.35 L522.90,309.60 L523.41,309.66 L523.93,309.72 L524.44,309.68 L524.95,309.83 L525.47,310.10 L525.98,310.21 L526.49,309.50 L527.01,309.96 L527.52,310.14 L528.03,309.65 L528.55,310.35 L529.06,310.61 L529.57,310.06 L530.09,309.91 L530.60,310.50" fill="none" stroke="#ff7f0e" stroke-width="2.08" stroke-dasharray="2.08 3.44" stroke-dashoffset="2.55" stroke-linejoin="round" clip-path="url(#c6)"/>
<path d="M395.5,437.50h6.2M528.6,437.50h-6.2" stroke="#000" stroke-width="1.11"/>
<path d="M395.5,416.00h7M528.6,416.00h-7" stroke="#000" stroke-width="2.08"/>
<path d="M395.5,395.50h6.2M528.6,395.50h-6.2" stroke="#000" stroke-width="1.11"/>
<path d="M395.5,374.50h6.2M528.6,374.50h-6.2" stroke="#000" stroke-width="1.11"/>
<path d="M395.5,353.50h6.2M528.6,353.50h-6.2" stroke="#000" stroke-width="1.11"/>
<path d="M395.5,331.50h6.2M528.6,331.50h-6.2" stroke="#000" stroke-width="1.11"/>
<path d="M395.5,311.00h7M528.6,311.00h-7" stroke="#000" stroke-width="2.08"/>
<path d="M395.5,289.50h6.2M528.6,289.50h-6.2" stroke="#000" stroke-width="1.11"/>
<path d="M395.5,268.50h6.2M528.6,268.50h-6.2" stroke="#000" stroke-width="1.11"/>
<path d="M395.50,445.5v4.86" stroke="#000" stroke-width="1.11"/>
<path d="M406.50,445.5v2.78" stroke="#000" stroke-width="0.83"/>
<path d="M417.50,445.5v4.86" stroke="#000" stroke-width="1.11"/>
<path d="M428.50,445.5v2.78" stroke="#000" stroke-width="0.83"/>
<path d="M439.50,445.5v4.86" stroke="#000" stroke-width="1.11"/>
<path d="M450.50,445.5v2.78" stroke="#000" stroke-width="0.83"/>
<path d="M462.50,445.5v4.86" stroke="#000" stroke-width="1.11"/>
<path d="M473.50,445.5v2.78" stroke="#000" stroke-width="0.83"/>
<path d="M484.50,445.5v4.86" stroke="#000" stroke-width="1.11"/>
<path d="M495.50,445.5v2.78" stroke="#000" stroke-width="0.83"/>
<path d="M506.50,445.5v4.86" stroke="#000" stroke-width="1.11"/>
<path d="M517.50,445.5v2.78" stroke="#000" stroke-width="0.83"/>
<path d="M528.50,445.5v4.86" stroke="#000" stroke-width="1.11"/>
<rect x="395.5" y="256.5" width="133.10" height="189.00" fill="none" stroke="#000" stroke-width="1.11"/>
<text x="381.06" y="316.40" textLength="8.84" lengthAdjust="spacingAndGlyphs" >0</text>
<text x="369.42" y="421.80" textLength="20.48" lengthAdjust="spacingAndGlyphs" >−1</text>
<text x="454.66" y="412.80" textLength="62.94" lengthAdjust="spacingAndGlyphs" >TDSmax:</text>
<text x="458.91" y="428.60" textLength="58.69" lengthAdjust="spacingAndGlyphs" >-0.850 V</text>
<clipPath id="c7"><rect x="542.1" y="256.5" width="133.39999999999998" height="189.0"/></clipPath>
<path d="M540.10,316.30 L561.80,316.30 L562.20,305.00 L562.40,292.50 L562.70,310.00 L563.00,350.00 L563.30,377.00 L563.60,360.00 L564.00,330.00 L564.60,300.00 L565.30,285.00 L566.20,274.00 L567.00,282.00 L567.60,291.60 L569.00,304.90 L570.30,315.50 L571.00,322.00 L571.40,324.50 L572.20,323.00 L573.00,321.60 L574.60,322.40 L577.00,320.00 L579.50,320.30 L582.00,319.00 L587.70,317.30 L595.90,316.80 L600.00,317.20 L604.90,317.60 L613.20,317.00 L621.60,317.30 L627.10,316.20 L634.00,315.70 L639.60,315.90 L643.70,317.30 L652.00,317.30 L668.60,316.90 L677.50,316.90" fill="none" stroke="#1f77b4" stroke-width="2.08" stroke-linejoin="round" stroke-linecap="butt" clip-path="url(#c7)"/>
<path d="M540.10,319.50 L540.60,319.56 L541.10,319.21 L541.59,319.49 L542.09,319.77 L542.59,319.27 L543.09,319.59 L543.58,319.41 L544.08,319.74 L544.58,319.43 L545.08,319.41 L545.58,319.76 L546.07,319.70 L546.57,319.45 L547.07,319.20 L547.57,319.25 L548.07,319.57 L548.56,319.58 L549.06,319.28 L549.56,319.70 L550.06,319.59 L550.55,319.42 L551.05,319.48 L551.55,319.53 L552.05,319.41 L552.55,319.61 L553.04,319.48 L553.54,319.48 L554.04,319.65 L554.54,319.57 L555.03,319.27 L555.53,319.50 L556.03,319.34 L556.53,319.53 L557.03,319.57 L557.52,319.29 L558.02,319.65 L558.52,319.78 L559.02,319.56 L559.52,319.33 L560.01,319.48 L560.51,319.55 L561.01,319.58 L561.51,319.59 L562.00,319.39 L562.50,319.43 L563.00,319.50 L563.30,340.00 L563.50,400.00 L563.70,437.00 L564.00,410.00 L564.50,360.00 L565.00,330.00 L565.60,300.00 L566.20,285.00 L567.20,269.00 L568.90,265.00 L570.20,268.00 L571.20,275.00 L571.70,282.00 L572.10,287.20 L573.60,292.80 L574.70,298.30 L575.90,303.80 L577.90,309.00 L579.60,314.30 L582.00,319.50 L584.40,324.40 L584.89,324.93 L585.38,325.68 L585.87,325.68 L586.36,326.04 L586.85,326.55 L587.34,327.13 L587.83,327.29 L588.32,327.29 L588.81,328.01 L589.30,328.50 L589.78,328.46 L590.27,328.47 L590.75,328.49 L591.23,328.62 L591.72,329.22 L592.20,329.01 L592.68,329.00 L593.17,328.83 L593.65,329.03 L594.13,329.22 L594.62,329.20 L595.10,329.30 L595.62,329.31 L596.14,329.64 L596.65,329.65 L597.17,329.56 L597.69,329.28 L598.21,329.58 L598.73,329.44 L599.25,329.55 L599.76,329.68 L600.28,329.80 L600.80,329.80 L601.31,330.00 L601.82,329.53 L602.34,330.05 L602.85,329.90 L603.36,330.03 L603.88,329.95 L604.39,330.38 L604.90,330.20 L605.39,330.29 L605.88,330.52 L606.37,330.36 L606.86,330.75 L607.35,330.72 L607.84,330.66 L608.33,330.86 L608.82,330.90 L609.31,330.96 L609.80,331.20 L610.30,331.35 L610.80,331.14 L611.30,330.99 L611.80,330.76 L612.30,331.11 L612.80,330.90 L613.30,330.81 L613.80,330.69 L614.30,331.01 L614.80,330.91 L615.30,330.70 L615.81,330.58 L616.32,330.50 L616.83,330.47 L617.34,330.46 L617.85,330.43 L618.36,330.16 L618.87,330.22 L619.38,330.28 L619.89,330.39 L620.40,330.20 L620.90,330.19 L621.40,330.04 L621.90,329.81 L622.40,329.92 L622.90,329.91 L623.40,329.85 L623.90,329.82 L624.40,329.49 L624.90,329.37 L625.40,329.40 L625.90,329.17 L626.40,328.55 L626.90,328.34 L627.40,327.88 L627.90,327.26 L628.40,327.12 L628.90,326.70 L629.40,326.30 L629.90,326.00 L630.41,325.48 L630.92,324.93 L631.44,324.61 L631.95,324.20 L632.46,324.00 L632.98,323.38 L633.49,323.04 L634.00,322.60 L634.49,322.52 L634.98,321.66 L635.47,321.81 L635.96,321.37 L636.44,320.96 L636.93,320.52 L637.42,320.57 L637.91,320.15 L638.40,319.80 L638.91,319.68 L639.42,319.53 L639.93,319.81 L640.44,319.85 L640.96,319.43 L641.47,319.52 L641.98,319.54 L642.49,319.58 L643.00,319.40 L643.51,319.55 L644.02,320.13 L644.53,320.02 L645.04,320.19 L645.55,320.33 L646.06,320.49 L646.57,320.98 L647.08,321.09 L647.59,321.17 L648.10,321.50 L648.61,321.43 L649.12,321.81 L649.63,321.92 L650.14,321.93 L650.65,321.94 L651.15,321.91 L651.66,322.24 L652.17,322.36 L652.68,322.28 L653.19,322.29 L653.70,322.40 L654.22,322.72 L654.74,322.39 L655.26,322.63 L655.78,322.93 L656.30,322.68 L656.82,322.69 L657.34,322.43 L657.86,322.68 L658.38,322.84 L658.90,322.90 L659.38,323.20 L659.86,322.73 L660.35,323.26 L660.83,322.92 L661.31,322.88 L661.79,322.99 L662.27,322.72 L662.75,322.99 L663.24,323.17 L663.72,322.62 L664.20,322.90 L664.71,322.78 L665.22,322.72 L665.73,322.94 L666.24,322.93 L666.75,323.20 L667.26,322.74 L667.77,323.09 L668.28,322.84 L668.79,322.98 L669.30,322.90 L669.81,322.90 L670.32,323.03 L670.84,322.79 L671.35,323.09 L671.86,323.05 L672.38,322.70 L672.89,322.88 L673.40,322.98 L673.91,322.77 L674.42,322.77 L674.94,322.85 L675.45,323.01 L675.96,323.05 L676.48,322.84 L676.99,323.07 L677.50,323.00" fill="none" stroke="#ff7f0e" stroke-width="2.08" stroke-dasharray="2.08 3.44" stroke-dashoffset="2.09" stroke-linejoin="round" clip-path="url(#c7)"/>
<path d="M542.1,438.50h6.2M675.5,438.50h-6.2" stroke="#000" stroke-width="1.11"/>
<path d="M542.1,428.00h7M675.5,428.00h-7" stroke="#000" stroke-width="2.08"/>
<path d="M542.1,416.50h6.2M675.5,416.50h-6.2" stroke="#000" stroke-width="1.11"/>
<path d="M542.1,405.50h6.2M675.5,405.50h-6.2" stroke="#000" stroke-width="1.11"/>
<path d="M542.1,394.50h6.2M675.5,394.50h-6.2" stroke="#000" stroke-width="1.11"/>
<path d="M542.1,383.50h6.2M675.5,383.50h-6.2" stroke="#000" stroke-width="1.11"/>
<path d="M542.1,372.00h7M675.5,372.00h-7" stroke="#000" stroke-width="2.08"/>
<path d="M542.1,361.50h6.2M675.5,361.50h-6.2" stroke="#000" stroke-width="1.11"/>
<path d="M542.1,350.50h6.2M675.5,350.50h-6.2" stroke="#000" stroke-width="1.11"/>
<path d="M542.1,338.50h6.2M675.5,338.50h-6.2" stroke="#000" stroke-width="1.11"/>
<path d="M542.1,327.50h6.2M675.5,327.50h-6.2" stroke="#000" stroke-width="1.11"/>
<path d="M542.1,317.00h7M675.5,317.00h-7" stroke="#000" stroke-width="2.08"/>
<path d="M542.1,305.50h6.2M675.5,305.50h-6.2" stroke="#000" stroke-width="1.11"/>
<path d="M542.1,294.50h6.2M675.5,294.50h-6.2" stroke="#000" stroke-width="1.11"/>
<path d="M542.1,283.50h6.2M675.5,283.50h-6.2" stroke="#000" stroke-width="1.11"/>
<path d="M542.1,272.50h6.2M675.5,272.50h-6.2" stroke="#000" stroke-width="1.11"/>
<path d="M542.1,261.00h7M675.5,261.00h-7" stroke="#000" stroke-width="2.08"/>
<path d="M542.50,445.5v4.86" stroke="#000" stroke-width="1.11"/>
<path d="M553.50,445.5v2.78" stroke="#000" stroke-width="0.83"/>
<path d="M564.50,445.5v4.86" stroke="#000" stroke-width="1.11"/>
<path d="M575.50,445.5v2.78" stroke="#000" stroke-width="0.83"/>
<path d="M586.50,445.5v4.86" stroke="#000" stroke-width="1.11"/>
<path d="M597.50,445.5v2.78" stroke="#000" stroke-width="0.83"/>
<path d="M608.50,445.5v4.86" stroke="#000" stroke-width="1.11"/>
<path d="M619.50,445.5v2.78" stroke="#000" stroke-width="0.83"/>
<path d="M631.50,445.5v4.86" stroke="#000" stroke-width="1.11"/>
<path d="M642.50,445.5v2.78" stroke="#000" stroke-width="0.83"/>
<path d="M653.50,445.5v4.86" stroke="#000" stroke-width="1.11"/>
<path d="M664.50,445.5v2.78" stroke="#000" stroke-width="0.83"/>
<path d="M675.50,445.5v4.86" stroke="#000" stroke-width="1.11"/>
<rect x="542.1" y="256.5" width="133.40" height="189.00" fill="none" stroke="#000" stroke-width="1.11"/>
<text x="681.10" y="266.70" textLength="8.84" lengthAdjust="spacingAndGlyphs" >1</text>
<text x="681.10" y="322.20" textLength="8.84" lengthAdjust="spacingAndGlyphs" >0</text>
<text x="680.20" y="377.70" textLength="20.48" lengthAdjust="spacingAndGlyphs" >−1</text>
<text x="680.20" y="433.20" textLength="20.48" lengthAdjust="spacingAndGlyphs" >−2</text>
<text x="601.56" y="412.80" textLength="62.94" lengthAdjust="spacingAndGlyphs" >TDSmax:</text>
<text x="605.81" y="428.60" textLength="58.69" lengthAdjust="spacingAndGlyphs" >-1.099 V</text>
<text x="287.3" y="14.6" textLength="127.4" lengthAdjust="spacingAndGlyphs">V3–V4 Waveforms</text>
<path d="M559.8,6.3H589.9" stroke="#1f77b4" stroke-width="2.08"/>
<path d="M559.8,27.2H589.9" stroke="#ff7f0e" stroke-width="2.08" stroke-dasharray="2.08 3.44" stroke-dashoffset="4.42"/>
<text x="600.80" y="11.40" textLength="28.00" lengthAdjust="spacingAndGlyphs" >TDS</text>
<text x="600.40" y="31.50" textLength="28.21" lengthAdjust="spacingAndGlyphs" >DFB</text>
<text x="1.00" y="135.90" textLength="9.50" lengthAdjust="spacingAndGlyphs" >V</text>
<text x="1.00" y="347.60" textLength="9.50" lengthAdjust="spacingAndGlyphs" >V</text>
<text x="343.20" y="468.70" textLength="33.99" lengthAdjust="spacingAndGlyphs" >Time</text>
<text x="280.6" y="484.6" textLength="158.6" lengthAdjust="spacingAndGlyphs">(each box spans 6 ms)</text>
</svg></body></html>
